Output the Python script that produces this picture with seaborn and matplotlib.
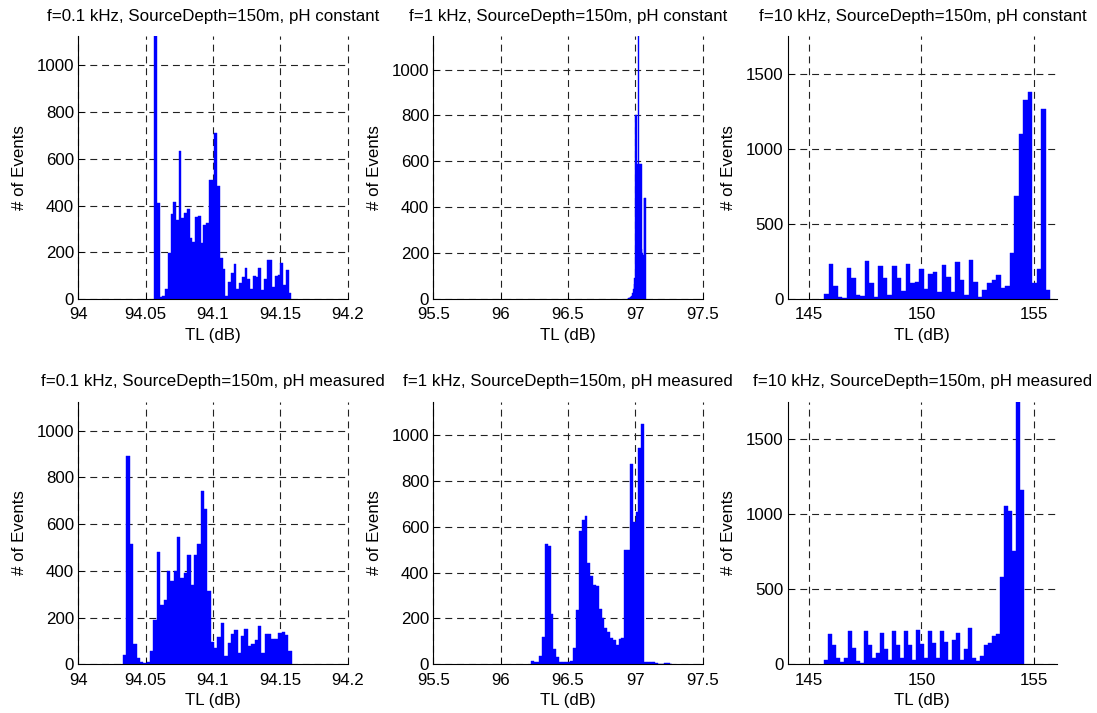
import numpy as np
import pandas as pd
import seaborn as sns
import matplotlib.pyplot as plt

# TL range covered by the histogram bins (dB) and counts per bin
tl_01_const = (94.0562, 94.1581)
n_01_const = [1130, 410, 10, 15, 45, 195, 365, 415, 340, 635,
              345, 370, 385, 260, 245, 350, 355, 240, 315, 325,
              510, 510, 710, 485, 175, 130, 15, 75, 110, 150,
              45, 70, 95, 135, 85, 45, 100, 95, 135, 40,
              85, 165, 165, 50, 100, 105, 155, 60, 125, 25]

tl_1_const = (96.942, 97.080)
n_1_const = [3, 5, 5, 8, 10, 12, 15, 25, 45, 65,
             90, 800, 800, 800, 590, 590, 1148, 590, 590, 590,
             590, 220, 200, 190, 440, 440, 440, 440]

tl_10_const = (145.667, 155.74)
n_10_const = [35, 235, 90, 15, 10, 210, 140, 25, 20, 255,
              105, 15, 220, 140, 25, 220, 140, 55, 235, 105,
              115, 200, 70, 170, 180, 45, 225, 150, 45, 245,
              130, 30, 260, 115, 15, 60, 105, 130, 160, 75,
              90, 310, 690, 1100, 1330, 1380, 110, 200, 1270, 60]

tl_01_meas = (94.0332, 94.1584)
n_01_meas = [40, 890, 515, 85, 25, 10, 5, 10, 55, 190,
             480, 255, 275, 400, 355, 400, 545, 370, 390, 470,
             340, 470, 515, 740, 665, 315, 95, 70, 115, 175,
             35, 90, 130, 145, 50, 120, 150, 80, 85, 105,
             165, 50, 130, 130, 110, 110, 135, 140, 125, 55]

tl_1_meas = (96.2237, 97.2755)
n_1_meas = [15, 8, 12, 35, 120, 525, 515, 220, 65, 30,
            10, 10, 8, 10, 15, 70, 235, 580, 630, 645,
            440, 385, 345, 340, 240, 200, 160, 140, 115, 105,
            85, 110, 115, 500, 500, 875, 620, 665, 942, 1046,
            8, 8, 8, 8, 6, 3, 3, 7, 7, 3]

tl_10_meas = (145.667, 154.585)
n_10_meas = [30, 200, 130, 40, 15, 40, 225, 110, 25, 10,
             220, 130, 40, 75, 210, 100, 30, 220, 130, 40,
             220, 130, 30, 230, 135, 40, 225, 140, 40, 220,
             150, 30, 165, 210, 30, 105, 245, 45, 25, 55,
             130, 140, 190, 205, 585, 1055, 1025, 755, 1750, 1160]

freqs = ['0.1', '1', '10']
ph_cases = ['constant', 'measured']

sns.set_style('white')
plt.rcParams['font.family'] = ['Liberation Sans', 'DejaVu Sans']
plt.rcParams['lines.scale_dashes'] = False
plt.rcParams['text.color'] = 'black'
plt.rcParams['axes.labelcolor'] = 'black'
plt.rcParams['xtick.color'] = 'black'
plt.rcParams['ytick.color'] = 'black'

fig = plt.figure(figsize=(10.97, 7.13), dpi=100)

lefts = [0.0714, 0.395, 0.718]
bottoms = [0.5806, 0.0683]
w, h = 0.2456, 0.3685

col_x = [((94, 94.2), [94, 94.05, 94.1, 94.15, 94.2], ['94', '94.05', '94.1', '94.15', '94.2']),
         ((95.5, 97.5), [95.5, 96, 96.5, 97, 97.5], ['95.5', '96', '96.5', '97', '97.5']),
         ((144.04, 156.04), [145, 150, 155], ['145', '150', '155'])]
col_y = [(1125, [0, 200, 400, 600, 800, 1000]),
         (1145, [0, 200, 400, 600, 800, 1000]),
         (1752, [0, 500, 1000, 1500])]

data = [[(tl_01_const, n_01_const), (tl_1_const, n_1_const), (tl_10_const, n_10_const)],
        [(tl_01_meas, n_01_meas), (tl_1_meas, n_1_meas), (tl_10_meas, n_10_meas)]]

for r in range(2):
    for c in range(3):
        ax = fig.add_axes([lefts[c], bottoms[r], w, h])
        rng, counts = data[r][c]
        edges = np.linspace(rng[0], rng[1], len(counts) + 1)
        df = pd.DataFrame({'TL': (edges[:-1] + edges[1:]) / 2, 'n': counts})
        sns.histplot(data=df, x='TL', weights='n', bins=list(edges), ax=ax,
                     color='#0000ff', alpha=1, edgecolor='#0000ff', linewidth=0.3)
        (xl, xt, xtl) = col_x[c]
        ax.set_xlim(*xl)
        ax.set_xticks(xt)
        ax.set_xticklabels(xtl)
        ax.set_ylim(0, col_y[c][0])
        ax.set_yticks(col_y[c][1])
        ax.set_axisbelow(True)
        ax.grid(True, linestyle=(0, (5, 3.5)), color='#222222', linewidth=0.8)
        for gl in ax.get_xgridlines():
            gl.set_clip_on(False)
        for s in ['top', 'right']:
            ax.spines[s].set_visible(False)
        for s in ['left', 'bottom']:
            ax.spines[s].set_color('black')
            ax.spines[s].set_linewidth(0.8)
        ax.tick_params(direction='in', length=4, width=0.6, labelsize=12.2,
                       left=True, bottom=True)
        ax.tick_params(axis='x', pad=6)
        ax.tick_params(axis='y', pad=3)
        ax.set_xlabel('TL (dB)', fontsize=12.2, labelpad=4)
        ax.set_ylabel('# of Events', fontsize=12.2, labelpad=7)
        ax.set_title(f'f={freqs[c]} kHz, SourceDepth=150m, pH {ph_cases[r]}',
                     fontsize=12.2, pad=11)

fig.savefig('out.png', dpi=100)
